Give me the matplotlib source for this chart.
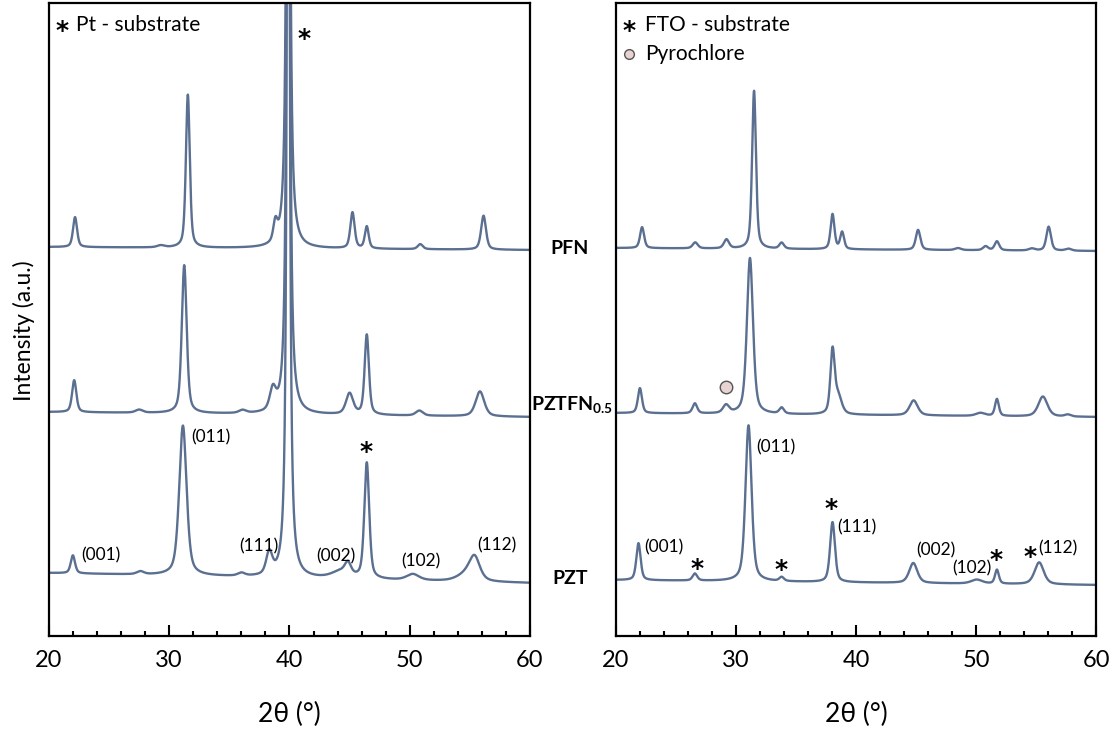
import matplotlib.pyplot as plt
import numpy as np

plt.rcParams['font.family'] = ['Lato', 'DejaVu Sans']
plt.rcParams['mathtext.fontset'] = 'custom'
plt.rcParams['mathtext.rm'] = 'Lato'
plt.rcParams['mathtext.bf'] = 'Lato:bold'

# peak tables: centre (2theta), height (a.u.), fwhm (deg)
# --- Pt substrate (left panel) ---
pt_pfn_pos = [22.17, 29.3, 31.55, 38.83, 39.9, 45.24, 46.43, 50.88, 56.14]
pt_pfn_h = [30, 2, 153, 19, 1500, 36, 22, 5, 34]
pt_pfn_w = [0.4, 0.7, 0.38, 0.4, 0.2, 0.42, 0.38, 0.5, 0.48]

pt_pztfn_pos = [22.1, 27.5, 31.25, 36.1, 38.62, 39.9, 45.0, 46.43, 50.8, 55.84]
pt_pztfn_h = [32, 3, 148, 3, 21, 1500, 21, 80, 5, 25]
pt_pztfn_w = [0.42, 0.7, 0.48, 0.7, 0.6, 0.2, 0.7, 0.42, 0.7, 0.85]

pt_pzt_pos = [21.99, 27.6, 31.14, 36.0, 38.32, 39.9, 44.3, 44.86, 46.43, 50.26, 54.8, 55.4]
pt_pzt_h = [18, 3, 150, 3, 22, 1500, 7, 11, 116, 6, 8, 21]
pt_pzt_w = [0.42, 0.7, 0.72, 0.7, 0.6, 0.2, 1.8, 0.6, 0.48, 1.2, 1.8, 1.0]

# --- FTO substrate (right panel) ---
fto_pfn_pos = [22.17, 26.6, 29.2, 31.5, 33.8, 38.04, 38.84, 45.17, 48.5, 50.8, 51.74, 54.65, 56.05, 57.7]
fto_pfn_h = [21, 6, 9, 158, 6, 35, 17, 20, 2, 4, 9, 2, 24, 2]
fto_pfn_w = [0.4, 0.5, 0.5, 0.38, 0.45, 0.38, 0.38, 0.45, 0.6, 0.5, 0.45, 0.6, 0.45, 0.6]

fto_pztfn_pos = [21.99, 26.57, 29.17, 31.16, 33.8, 38.04, 38.5, 44.8, 50.37, 51.74, 55.57, 57.65]
fto_pztfn_h = [25, 10, 8, 156, 6, 62, 18, 15, 3, 17, 20, 2]
fto_pztfn_w = [0.4, 0.45, 0.6, 0.6, 0.45, 0.42, 0.7, 0.8, 0.9, 0.38, 0.9, 0.6]

fto_pzt_pos = [21.87, 26.57, 31.04, 33.8, 38.04, 44.77, 50.06, 51.74, 55.26]
fto_pzt_h = [37, 7, 156, 4, 60, 20, 4, 14, 22]
fto_pzt_w = [0.42, 0.45, 0.6, 0.45, 0.48, 0.8, 1.1, 0.38, 0.9]

# baseline at 20 and 60 deg for each trace (a.u., includes stacking offset)
pt_base = {'PFN': (389, 386), 'PZTFN': (224, 219), 'PZT': (63, 53)}
fto_base = {'PFN': (388, 385), 'PZTFN': (223, 219), 'PZT': (56, 51)}

line_color = '#5b6f91'
x = np.linspace(20, 60, 8001)


def pattern(pos, h, w, base):
    y = np.interp(x, [20, 60], base)
    for c, a, f in zip(pos, h, w):
        d = (x - c) / f
        eta = 1.0 if a > 1000 else 0.5
        y = y + a * (eta / (1 + 4 * d ** 2) + (1 - eta) * np.exp(-4 * np.log(2) * d ** 2))
    return y


fig = plt.figure(figsize=(11.15, 7.34), dpi=100)
ax1 = fig.add_axes([0.0439, 0.1335, 0.4314, 0.8624])
ax2 = fig.add_axes([0.5525, 0.1335, 0.4305, 0.8624])

ax1.plot(x, pattern(pt_pfn_pos, pt_pfn_h, pt_pfn_w, pt_base['PFN']), color=line_color, lw=1.7)
ax1.plot(x, pattern(pt_pztfn_pos, pt_pztfn_h, pt_pztfn_w, pt_base['PZTFN']), color=line_color, lw=1.7)
ax1.plot(x, pattern(pt_pzt_pos, pt_pzt_h, pt_pzt_w, pt_base['PZT']), color=line_color, lw=1.7)

ax2.plot(x, pattern(fto_pfn_pos, fto_pfn_h, fto_pfn_w, fto_base['PFN']), color=line_color, lw=1.7)
ax2.plot(x, pattern(fto_pztfn_pos, fto_pztfn_h, fto_pztfn_w, fto_base['PZTFN']), color=line_color, lw=1.7)
ax2.plot(x, pattern(fto_pzt_pos, fto_pzt_h, fto_pzt_w, fto_base['PZT']), color=line_color, lw=1.7)

for ax in (ax1, ax2):
    ax.set_xlim(20, 60)
    ax.set_ylim(0, 633)
    ax.set_yticks([])
    ax.set_xticks(np.arange(20, 61, 10))
    ax.set_xticks(np.arange(20, 61, 2), minor=True)
    ax.tick_params(axis='x', which='major', direction='in', length=8, width=1.5, pad=10, labelsize=17)
    ax.tick_params(axis='x', which='minor', direction='in', length=3.6, width=1.5)
    for s in ax.spines.values():
        s.set_linewidth(1.6)
    ax.set_xlabel('2θ (°)', fontsize=19, labelpad=22)

ax1.set_ylabel('Intensity (a.u.)', fontsize=16.5)
ax1.yaxis.set_label_coords(-0.028, 0.483)

star = dict(family='DejaVu Sans', fontweight='bold', fontsize=18, ha='center', va='center')
lab = dict(fontsize=12.5, ha='center', va='center')

# left panel labels
ax1.text(21.1, 605, '*', **star)
ax1.text(22.25, 611, 'Pt - substrate', fontsize=15, ha='left', va='center')
ax1.text(41.2, 597, '*', **star)
ax1.text(46.35, 184, '*', **star)
ax1.text(33.47, 199, '(011)', **lab)
ax1.text(24.3, 81, '(001)', **lab)
ax1.text(37.45, 90, '(111)', **lab)
ax1.text(43.85, 80, '(002)', **lab)
ax1.text(50.9, 75, '(102)', **lab)
ax1.text(57.25, 91, '(112)', **lab)

# right panel labels
ax2.text(21.08, 605, '*', **star)
ax2.text(22.42, 611, 'FTO - substrate', fontsize=15, ha='left', va='center')
ax2.plot(21.08, 582, 'o', ms=7, mfc='#e8d2d2', mec='#555555', mew=1)
ax2.text(22.42, 582, 'Pyrochlore', fontsize=15, ha='left', va='center')
ax2.plot(29.17, 249, 'o', ms=9, mfc='#e8d2d2', mec='#555555', mew=1)
ax2.text(33.33, 189, '(011)', **lab)
ax2.text(24.0, 89, '(001)', **lab)
ax2.text(26.75, 67, '*', **star)
ax2.text(33.75, 66, '*', **star)
ax2.text(37.9, 127, '*', **star)
ax2.text(40.1, 109, '(111)', **lab)
ax2.text(46.67, 86, '(002)', **lab)
ax2.text(49.67, 68, '(102)', **lab)
ax2.text(51.67, 76, '*', **star)
ax2.text(54.5, 79, '*', **star)
ax2.text(56.83, 88, '(112)', **lab)

# sample names between the panels
fig.text(0.511, (734 - 249) / 734, 'PFN', fontsize=14, fontweight='bold', ha='center', va='center')
fig.text(0.513, (734 - 405) / 734, r'PZTFN$_{\mathbf{0.5}}$', fontsize=14, fontweight='bold', ha='center', va='center')
fig.text(0.511, (734 - 578) / 734, 'PZT', fontsize=14, fontweight='bold', ha='center', va='center')

fig.savefig('out.png', dpi=100)
